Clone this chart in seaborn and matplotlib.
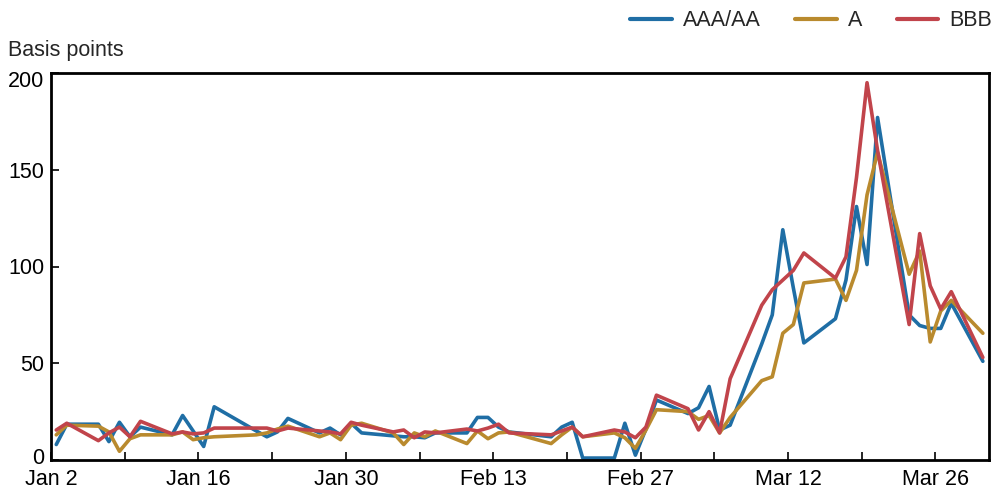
import pandas as pd
import matplotlib.pyplot as plt
import matplotlib.transforms as mtransforms
import seaborn as sns

# trading days, Jan 2 - Mar 30 2020 (bond market closed Jan 20, Feb 17)
dates = [
    "2020-01-02", "2020-01-03", "2020-01-06", "2020-01-07", "2020-01-08", "2020-01-09", "2020-01-10",
    "2020-01-13", "2020-01-14", "2020-01-15", "2020-01-16", "2020-01-17", "2020-01-21", "2020-01-22",
    "2020-01-23", "2020-01-24", "2020-01-27", "2020-01-28", "2020-01-29", "2020-01-30", "2020-01-31",
    "2020-02-03", "2020-02-04", "2020-02-05", "2020-02-06", "2020-02-07", "2020-02-10", "2020-02-11",
    "2020-02-12", "2020-02-13", "2020-02-14", "2020-02-18", "2020-02-19", "2020-02-20", "2020-02-21",
    "2020-02-24", "2020-02-25", "2020-02-26", "2020-02-27", "2020-02-28", "2020-03-02", "2020-03-03",
    "2020-03-04", "2020-03-05", "2020-03-06", "2020-03-09", "2020-03-10", "2020-03-11", "2020-03-12",
    "2020-03-13", "2020-03-16", "2020-03-17", "2020-03-18", "2020-03-19", "2020-03-20", "2020-03-23",
    "2020-03-24", "2020-03-25", "2020-03-26", "2020-03-27", "2020-03-30",
]

aaa_aa = [
    8, 18.5, 18.5, 9.5, 19.5, 12, 17,
    13, 23, 15, 7, 27.5, 15, 12,
    14.5, 21.5, 14, 16.5, 13, 19, 14,
    12.5, 12, 12, 11.5, 14, 14, 22,
    22, 17, 14.5, 12, 17, 19.5, 1,
    1, 19, 2.5, 16, 31, 24, 27,
    38, 15.5, 18, 60, 75, 119, 89,
    60.5, 73, 93, 131, 101, 177, 75,
    69.5, 68, 68, 81, 51,
]

a_rated = [
    13, 18, 17.5, 14.5, 4.5, 11, 13,
    13, 14.5, 10.5, 11.5, 12, 13, 14,
    16, 17.5, 12, 14, 10.5, 18, 19,
    14, 8, 14, 12, 15, 8.5, 15,
    11, 14, 14.5, 8.5, 13, 17, 12,
    14, 11.5, 6, 15.5, 26, 25, 21,
    23, 14, 22, 41, 43, 65.5, 70,
    91.5, 93.5, 82.5, 98, 137, 159, 96,
    108, 61, 77, 82.5, 65.5,
]

bbb = [
    15.5, 19, 10, 14, 17, 12, 20,
    13.5, 14.5, 13.5, 14, 16.5, 16.5, 16.5,
    15, 16.5, 15, 14.5, 13.5, 19.5, 18,
    14.5, 15.5, 11.5, 14.5, 14, 16, 15,
    16.5, 18.5, 14, 13, 15, 17, 12,
    15.5, 14.5, 11.5, 17, 33.5, 26.5, 15.5,
    25, 14, 42, 80, 88, 93, 98,
    107, 94, 105, 146, 195, 160, 70,
    117, 90, 78, 87, 53,
]

series_names = ["AAA/AA", "A", "BBB"]
colors = {"AAA/AA": "#1f6ea5", "A": "#b98a2e", "BBB": "#c1444b"}

major_ticks = ["2020-01-02", "2020-01-16", "2020-01-30", "2020-02-13", "2020-02-27", "2020-03-12", "2020-03-26"]
major_labels = ["Jan 2", "Jan 16", "Jan 30", "Feb 13", "Feb 27", "Mar 12", "Mar 26"]
minor_ticks = ["2020-01-09", "2020-01-23", "2020-02-06", "2020-02-20", "2020-03-05", "2020-03-19"]
y_ticks = [0, 50, 100, 150, 200]

# long-form table for seaborn; points sit at midday
t = pd.to_datetime(dates) + pd.Timedelta(hours=12)
df = pd.concat([
    pd.DataFrame({"date": t, "bp": aaa_aa, "rating": "AAA/AA"}),
    pd.DataFrame({"date": t, "bp": a_rated, "rating": "A"}),
    pd.DataFrame({"date": t, "bp": bbb, "rating": "BBB"}),
], ignore_index=True)

sns.set_style("ticks")
plt.rcParams["font.family"] = ["Liberation Sans", "DejaVu Sans"]
FS = 15.5

fig = plt.figure(figsize=(9.96, 4.91), dpi=100)
ax = fig.add_axes([51 / 996, 1 - 460 / 491, 938 / 996, 387 / 491])

sns.lineplot(data=df, x="date", y="bp", hue="rating", hue_order=series_names,
             palette=colors, linewidth=2.6, ax=ax)

ax.set_xlim(pd.Timestamp("2020-01-02"), pd.Timestamp("2020-03-31 02:00"))
ax.set_ylim(0, 200)
ax.set_xticks(pd.to_datetime(major_ticks))
ax.set_xticklabels(major_labels)
ax.set_xticks(pd.to_datetime(minor_ticks), minor=True)
ax.set_yticks(y_ticks)
ax.set_xlabel("")
ax.set_ylabel("")

for s in ax.spines.values():
    s.set_visible(True)
    s.set_linewidth(2)
    s.set_color("black")
ax.tick_params(axis="both", which="both", direction="in", length=6, width=1.2,
               labelsize=FS, colors="black")
ax.tick_params(axis="x", which="both", pad=6.5)
ax.tick_params(axis="y", which="both", pad=5)

# end labels are pulled inward a bit, as in the original
ylabels = ax.get_yticklabels()
ylabels[0].set_transform(ylabels[0].get_transform()
                         + mtransforms.ScaledTranslation(0, 3 / 72, fig.dpi_scale_trans))
ylabels[-1].set_transform(ylabels[-1].get_transform()
                          + mtransforms.ScaledTranslation(0, -4.5 / 72, fig.dpi_scale_trans))

fig.text(8 / 996, 1 - 50 / 491, "Basis points", fontsize=FS, ha="left", va="center")

handles, labels = ax.get_legend_handles_labels()
for h in handles:
    h.set_linewidth(3)
ax.legend(handles, labels, loc="center right", bbox_to_anchor=(992 / 996, 1 - 21 / 491),
          bbox_transform=fig.transFigure, ncol=3, frameon=False, fontsize=FS,
          handlelength=1.95, handletextpad=0.5, columnspacing=1.6, borderpad=0, borderaxespad=0)

fig.savefig("out.png", dpi=100)
